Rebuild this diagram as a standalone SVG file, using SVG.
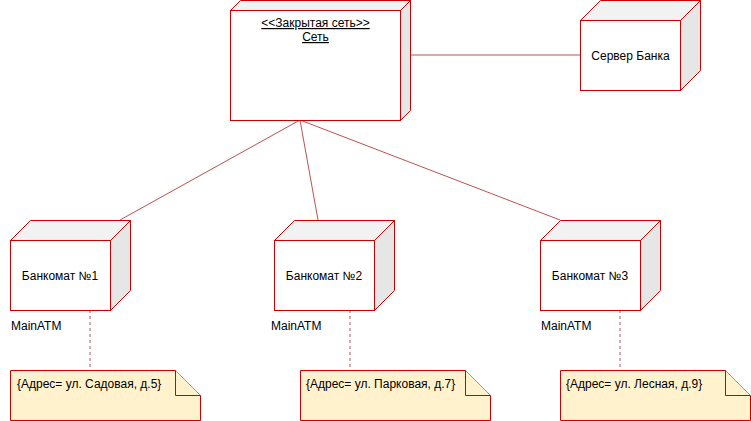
<svg xmlns="http://www.w3.org/2000/svg" width="751" height="421" viewBox="0 0 751 421">
<style>
.front{fill:#ffffff;stroke:#cc0000;stroke-width:1}
.top{fill:#f2f2f2;stroke:#cc0000;stroke-width:1}
.side{fill:#e6e6e6;stroke:#cc0000;stroke-width:1}
.t{font-family:"Liberation Sans",Arial,sans-serif;font-size:12px;fill:#000000}
.c{text-anchor:middle}
.u{text-decoration:underline}
.note{fill:#fff2cc;stroke:#cc0000;stroke-width:1}
.link{stroke:#b85450;stroke-width:1;fill:none}
.dash{stroke:#b85450;stroke-width:1;fill:none;stroke-dasharray:3 3}
</style>
<rect width="751" height="421" fill="#ffffff"/>
<g id="connectors">
<line class="link" x1="410" y1="55" x2="580" y2="55"/>
<line class="link" x1="300" y1="120" x2="120" y2="220"/>
<line class="link" x1="300" y1="120" x2="318" y2="220"/>
<line class="link" x1="300" y1="120" x2="560" y2="220"/>
<line class="dash" x1="90" y1="310" x2="90" y2="370"/>
<line class="dash" x1="350" y1="310" x2="350" y2="370"/>
<line class="dash" x1="620" y1="310" x2="620" y2="370"/>
</g>
<g id="net">
<path class="top" d="M230.5,10.5 L240.5,0.5 L410.5,0.5 L400.5,10.5 Z"/>
<path class="side" d="M400.5,10.5 L410.5,0.5 L410.5,110.5 L400.5,120.5 Z"/>
<rect class="front" x="230.5" y="10.5" width="170" height="110"/>
<text class="t c u" x="315.5" y="27">&lt;&lt;Закрытая сеть&gt;&gt;</text>
<text class="t c u" x="315.5" y="41">Сеть</text>
</g>
<g id="server">
<path class="top" d="M580.5,20.5 L600.5,0.5 L700.5,0.5 L680.5,20.5 Z"/>
<path class="side" d="M680.5,20.5 L700.5,0.5 L700.5,70.5 L680.5,90.5 Z"/>
<rect class="front" x="580.5" y="20.5" width="100" height="70"/>
<text class="t c" x="630.5" y="60">Сервер Банка</text>
</g>
<g id="atm1">
<path class="top" d="M10.5,240.5 L30.5,220.5 L130.5,220.5 L110.5,240.5 Z"/>
<path class="side" d="M110.5,240.5 L130.5,220.5 L130.5,290.5 L110.5,310.5 Z"/>
<rect class="front" x="10.5" y="240.5" width="100" height="70"/>
<text class="t c" x="60" y="280">Банкомат №1</text>
<text class="t" x="11" y="330">MainATM</text>
</g>
<g id="atm2">
<path class="top" d="M274.5,240.5 L294.5,220.5 L394.5,220.5 L374.5,240.5 Z"/>
<path class="side" d="M374.5,240.5 L394.5,220.5 L394.5,290.5 L374.5,310.5 Z"/>
<rect class="front" x="274.5" y="240.5" width="100" height="70"/>
<text class="t c" x="324" y="280">Банкомат №2</text>
<text class="t" x="271" y="330">MainATM</text>
</g>
<g id="atm3">
<path class="top" d="M540.5,240.5 L560.5,220.5 L660.5,220.5 L640.5,240.5 Z"/>
<path class="side" d="M640.5,240.5 L660.5,220.5 L660.5,290.5 L640.5,310.5 Z"/>
<rect class="front" x="540.5" y="240.5" width="100" height="70"/>
<text class="t c" x="590" y="280">Банкомат №3</text>
<text class="t" x="541" y="330">MainATM</text>
</g>
<g id="note1">
<path class="note" d="M10.5,370.5 L175.5,370.5 L200.5,395.5 L200.5,420.5 L10.5,420.5 Z"/>
<path class="note" d="M175.5,370.5 L175.5,395.5 L200.5,395.5"/>
<text class="t" x="17" y="388">{Адрес= ул. Садовая, д.5}</text>
</g>
<g id="note2">
<path class="note" d="M300.5,370.5 L465.5,370.5 L490.5,395.5 L490.5,420.5 L300.5,420.5 Z"/>
<path class="note" d="M465.5,370.5 L465.5,395.5 L490.5,395.5"/>
<text class="t" x="306" y="388">{Адрес= ул. Парковая, д.7}</text>
</g>
<g id="note3">
<path class="note" d="M560.5,370.5 L725.5,370.5 L750.5,395.5 L750.5,420.5 L560.5,420.5 Z"/>
<path class="note" d="M725.5,370.5 L725.5,395.5 L750.5,395.5"/>
<text class="t" x="566" y="388">{Адрес= ул. Лесная, д.9}</text>
</g>
</svg>
